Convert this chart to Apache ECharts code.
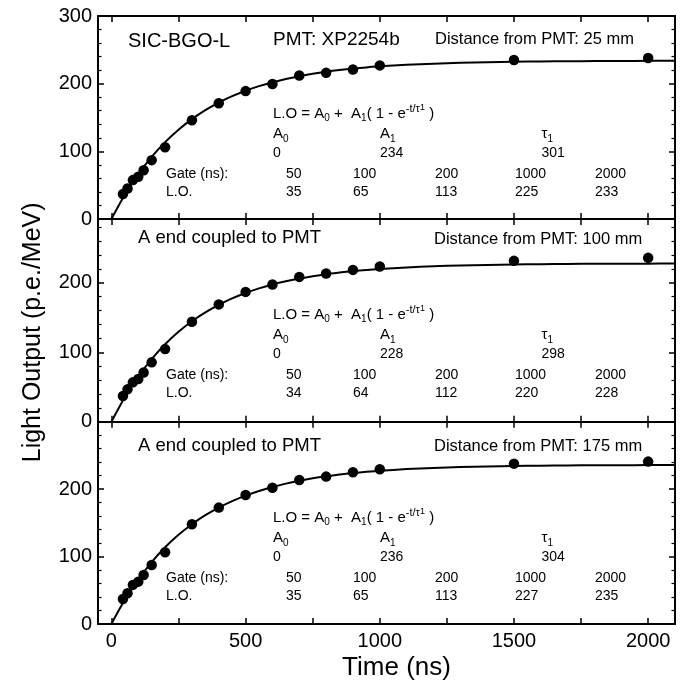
<!DOCTYPE html>
<html><head><meta charset="utf-8">
<script src="https://cdn.jsdelivr.net/npm/echarts@6/dist/echarts.min.js"></script>
<style>html,body{margin:0;padding:0;background:#fff}#c{width:687px;height:689px}</style>
</head><body><div id="c"></div>
<script>
// ---------------- data ----------------
const gateTimes = [43, 60, 80, 100, 120, 150, 200, 300, 400, 500, 600, 700, 800, 900, 1000, 1500, 2000];
const dotsTop = [37, 45, 57.5, 62.5, 72, 87, 106, 146, 171, 189, 199.5, 212, 216, 221, 227, 235, 238];
const dotsMid = [37, 46.6, 56.7, 61.4, 71, 85.5, 104.6, 144, 169, 187, 197.7, 208.6, 213.5, 218.7, 223.6, 231.7, 236];
const dotsBot = [37, 45.5, 58, 62.8, 72.7, 87.5, 106.4, 148, 172.6, 191.4, 202, 213.6, 218.6, 225, 229.5, 237.8, 240.8];

const fitTimes = [0, 50, 100, 150, 200, 250, 300, 350, 400, 450, 500, 550, 600, 650, 700, 750, 800, 850, 900, 950, 1000,
  1100, 1200, 1300, 1400, 1500, 1600, 1700, 1800, 1900, 2000, 2100];
const fitTop = [0, 35.8, 66.2, 91.8, 113.6, 132.0, 147.6, 160.9, 172.1, 181.5, 189.6, 196.3, 202.1, 207.0, 211.1, 214.6, 217.6, 220.1, 222.2, 224.0, 225.6,
  227.9, 229.6, 230.9, 231.8, 232.4, 232.9, 233.2, 233.4, 233.6, 233.7, 233.8];
const fitMid = [0, 35.2, 65.0, 90.2, 111.5, 129.5, 144.7, 157.5, 168.4, 177.6, 185.4, 192.0, 197.6, 202.3, 206.2, 209.6, 212.5, 214.8, 216.9, 218.6, 220.0,
  222.3, 223.9, 225.1, 225.9, 226.5, 226.9, 227.2, 227.5, 227.6, 227.7, 227.8];
const fitBot = [0, 35.8, 66.1, 91.9, 113.8, 132.3, 148.0, 161.4, 172.7, 182.3, 190.4, 197.3, 203.2, 208.2, 212.4, 216.0, 219.0, 221.6, 223.8, 225.6, 227.2,
  229.7, 231.4, 232.7, 233.6, 234.3, 234.8, 235.1, 235.4, 235.5, 235.7, 235.8];

const tableGates = [50, 100, 200, 1000, 2000];
const tableLOTop = [35, 65, 113, 225, 233];
const tableLOMid = [34, 64, 112, 220, 228];
const tableLOBot = [35, 65, 113, 227, 235];
const paramA0 = [0, 0, 0];
const paramA1 = [234, 228, 236];
const paramTau = [301, 298, 304];

const panelTitles = ['SIC-BGO-L', 'A end coupled to PMT', 'A end coupled to PMT'];
const distances = ['Distance from PMT: 25 mm', 'Distance from PMT: 100 mm', 'Distance from PMT: 175 mm'];
const pmtLabel = 'PMT: XP2254b';

const xTickValues = [0, 250, 500, 750, 1000, 1250, 1500, 1750, 2000];
const xLabelValues = [0, 500, 1000, 1500, 2000];
const yMajorTop = [0, 100, 200, 300];
const yMajorLow = [0, 100, 200];
const yMinorTop = [20, 40, 60, 80, 120, 140, 160, 180, 220, 240, 260, 280];
const yMinorLow = [20, 40, 60, 80, 120, 140, 160, 180, 220, 240, 260, 280];

const xTitle = 'Time (ns)';
const yTitle = 'Light Output (p.e./MeV)';

// ---------------- layout ----------------
const FF = '"Liberation Sans", Arial, Helvetica, sans-serif';
const panels = [
  { top: 16, height: 203, yMax: 300, major: yMajorTop, minor: yMinorTop, dots: dotsTop, fit: fitTop, lo: tableLOTop, dy: 0 },
  { top: 219, height: 202.7, yMax: 292, major: yMajorLow, minor: yMinorLow, dots: dotsMid, fit: fitMid, lo: tableLOMid, dy: 201 },
  { top: 421.7, height: 202.3, yMax: 300, major: yMajorLow, minor: yMinorLow, dots: dotsBot, fit: fitBot, lo: tableLOBot, dy: 404 }
];
const GL = 98, GW = 577;

const grid = [], xAxis = [], yAxis = [], series = [], graphic = [];
const lineW = 2;

panels.forEach((p, i) => {
  grid.push({ left: GL, width: GW, top: p.top, height: p.height, show: false });
  const isBottom = i === 2;
  ['bottom', 'top'].forEach(pos => {
    const ax = {
      type: 'value', gridIndex: i, position: pos, min: -50, max: 2100,
      axisLine: { show: true, onZero: false, lineStyle: { color: '#000', width: lineW } },
      axisTick: { show: true, inside: true, length: 6, customValues: xTickValues, lineStyle: { color: '#000', width: 1.5 } },
      axisLabel: { show: false },
      splitLine: { show: false }
    };
    if (pos === 'bottom' && isBottom) {
      ax.axisLabel = { show: true, customValues: xLabelValues, formatter: v => String(v), fontSize: 20, fontFamily: FF, color: '#000', margin: 7 };
      ax.name = xTitle;
      ax.nameLocation = 'middle';
      ax.nameGap = 31;
      ax.nameTextStyle = { fontSize: 26, fontFamily: FF, color: '#000', padding: [0, 0, 0, 20] };
    }
    xAxis.push(ax);
  });
  ['left', 'right'].forEach(pos => {
    const major = {
      type: 'value', gridIndex: i, position: pos, min: 0, max: p.yMax,
      axisLine: { show: true, onZero: false, lineStyle: { color: '#000', width: lineW } },
      axisTick: { show: true, inside: true, length: 6, customValues: p.major, lineStyle: { color: '#000', width: 1.5 } },
      axisLabel: { show: pos === 'left', customValues: p.major, formatter: v => String(v), fontSize: 20, fontFamily: FF, color: '#000', margin: 6 },
      splitLine: { show: false }
    };
    if (pos === 'left' && i === 1) {
      major.name = yTitle;
      major.nameLocation = 'middle';
      major.nameGap = 52;
      major.nameRotate = 90;
      major.nameTextStyle = { fontSize: 25, fontFamily: FF, color: '#000', padding: [0, 24, 0, 0] };
    }
    yAxis.push(major);
    yAxis.push({
      type: 'value', gridIndex: i, position: pos, min: 0, max: p.yMax,
      axisLine: { show: false, onZero: false },
      axisTick: { show: true, inside: true, length: 3.5, customValues: p.minor, lineStyle: { color: '#000', width: 1.2 } },
      axisLabel: { show: false },
      splitLine: { show: false }
    });
  });
  series.push({
    type: 'line', xAxisIndex: 2 * i, yAxisIndex: 4 * i,
    data: fitTimes.map((t, k) => [t, p.fit[k]]),
    smooth: 0.3, showSymbol: false, symbol: 'none',
    lineStyle: { color: '#000', width: 2 }, clip: true, z: 2, silent: true
  });
  series.push({
    type: 'scatter', xAxisIndex: 2 * i, yAxisIndex: 4 * i,
    data: gateTimes.map((t, k) => [t, p.dots[k]]),
    symbol: 'circle', symbolSize: 10.5, itemStyle: { color: '#000', opacity: 1 }, z: 3
  });

  // ---- annotations ----
  const txt = (x, y, text, size, extra) => graphic.push({
    type: 'text', x: x, y: y, z: 100,
    style: Object.assign({ text: text, fontSize: size, fontFamily: FF, fill: '#000', align: 'left', verticalAlign: 'middle' }, extra || {})
  });
  const subRich = {
    s: { fontSize: 10, fontFamily: FF, lineHeight: 10, verticalAlign: 'bottom', fill: '#000' },
    p: { fontSize: 11, fontFamily: FF, lineHeight: 11, verticalAlign: 'top', fill: '#000' },
    q: { fontSize: 9, fontFamily: FF, lineHeight: 15, verticalAlign: 'top', fill: '#000' }
  };
  if (i === 0) {
    txt(128, 41, panelTitles[0], 20);
    txt(273, 40, pmtLabel, 19);
    txt(435, 39, distances[0], 16.5);
  } else {
    txt(138, i === 1 ? 238 : 446, panelTitles[i], 18.5);
    txt(434, i === 1 ? 239 : 446.5, distances[i], 16.5);
  }
  const d = p.dy;
  txt(273, 113.5 + d, 'L.O = A{s|0} +  A{s|1}( 1 - e{p|-t/τ}{q|1} )', 15, { rich: subRich, lineHeight: 20 });
  txt(273, 134 + d, 'A{s|0}', 15, { rich: subRich, lineHeight: 20 });
  txt(380, 134 + d, 'A{s|1}', 15, { rich: subRich, lineHeight: 20 });
  txt(541.5, 134 + d, 'τ{s|1}', 15, { rich: subRich, lineHeight: 20 });
  txt(273, 153.5 + d, String(paramA0[i]), 14);
  txt(380, 153.5 + d, String(paramA1[i]), 14);
  txt(541.5, 153.5 + d, String(paramTau[i]), 14);
  txt(166, 174 + d, 'Gate (ns):', 14);
  txt(166, 192 + d, 'L.O.', 14);
  const colX = [286, 353, 435, 515, 595];
  tableGates.forEach((g, k) => {
    txt(colX[k], 174 + d, String(g), 14);
    txt(colX[k], 192 + d, String(p.lo[k]), 14);
  });
});

const chart = echarts.init(document.getElementById('c'), null, { renderer: 'canvas' });
chart.setOption({
  animation: false,
  backgroundColor: '#fff',
  grid: grid, xAxis: xAxis, yAxis: yAxis, series: series, graphic: graphic
});
</script></body></html>
